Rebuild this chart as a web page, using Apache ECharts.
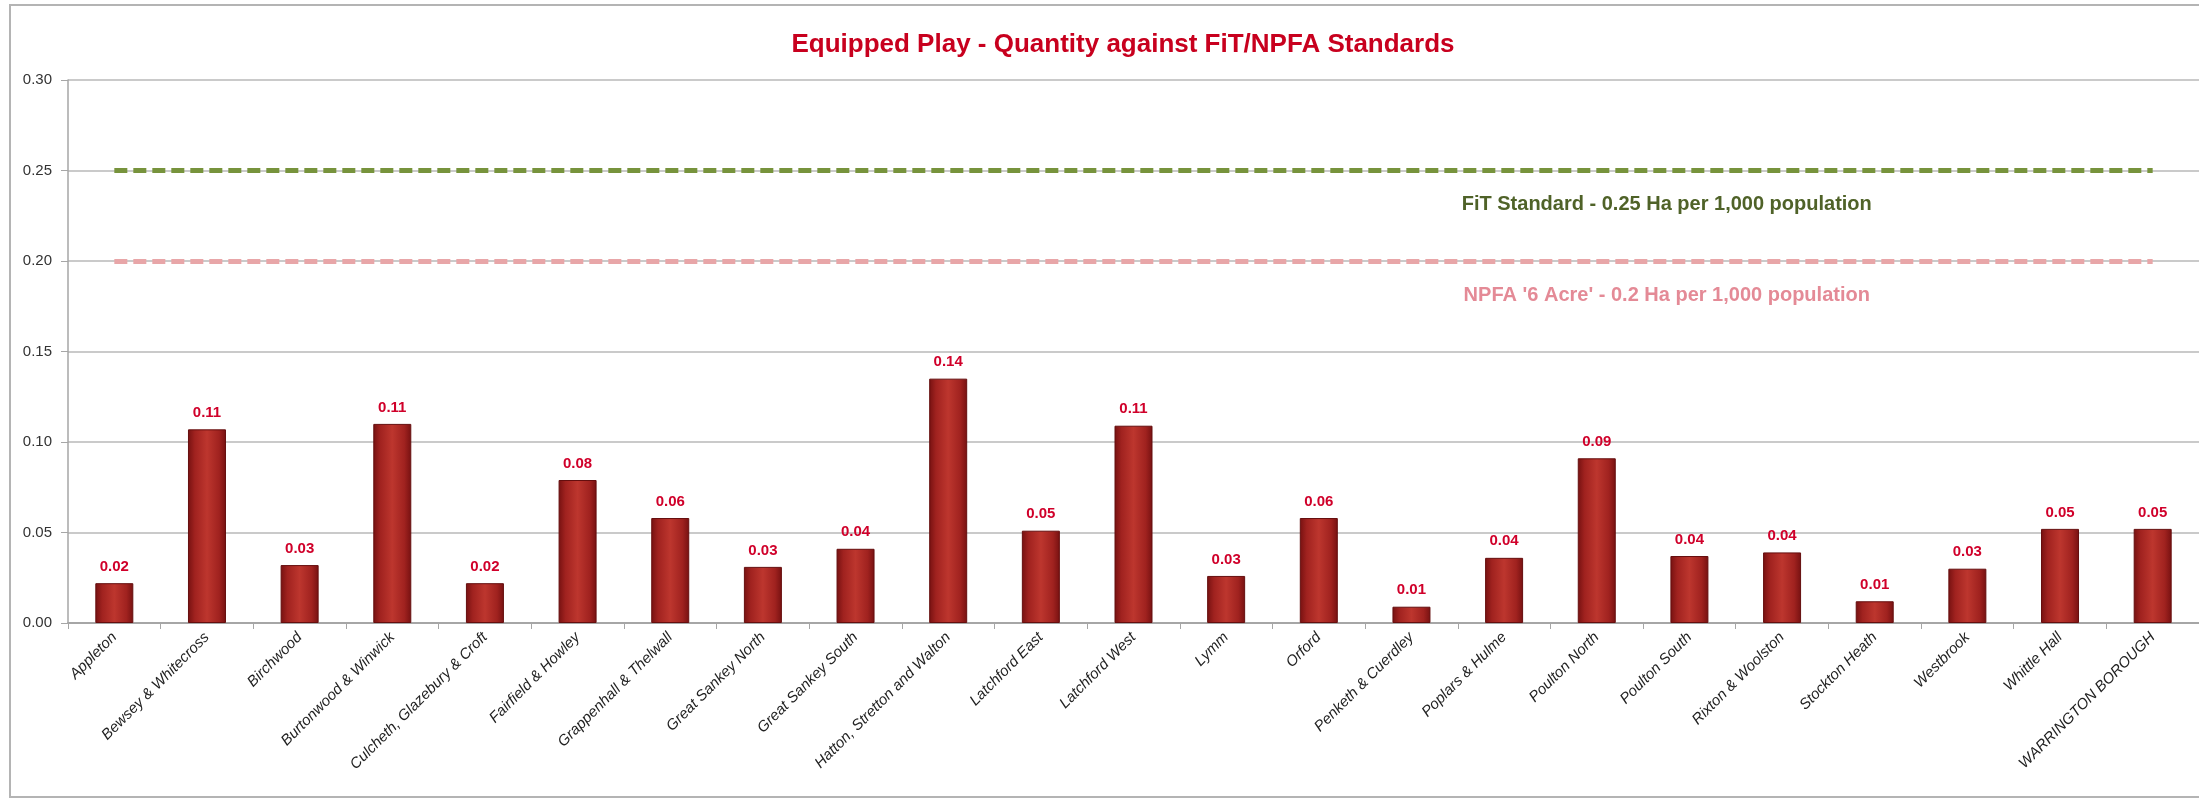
<!DOCTYPE html>
<html>
<head>
<meta charset="utf-8">
<script src="https://cdn.jsdelivr.net/npm/echarts@6/dist/echarts.min.js"></script>
<style>
  html, body { margin: 0; padding: 0; background: #fff; }
  #chart { width: 2199px; height: 800px; }
</style>
</head>
<body>
<div id="chart"></div>
<script>
// wards (x axis)
const wards = [
  'Appleton', 'Bewsey & Whitecross', 'Birchwood', 'Burtonwood & Winwick',
  'Culcheth, Glazebury & Croft', 'Fairfield & Howley', 'Grappenhall & Thelwall',
  'Great Sankey North', 'Great Sankey South', 'Hatton, Stretton and Walton',
  'Latchford East', 'Latchford West', 'Lymm', 'Orford', 'Penketh & Cuerdley',
  'Poplars & Hulme', 'Poulton North', 'Poulton South', 'Rixton & Woolston',
  'Stockton Heath', 'Westbrook', 'Whittle Hall', 'WARRINGTON BOROUGH'
]
// Ha per 1,000 population
const quantity = [
  0.022, 0.107, 0.032, 0.110, 0.022, 0.079, 0.058, 0.031, 0.041, 0.135,
  0.051, 0.109, 0.026, 0.058, 0.009, 0.036, 0.091, 0.037, 0.039, 0.012,
  0.030, 0.052, 0.052
]
const yTicks = [0, 0.05, 0.10, 0.15, 0.20, 0.25, 0.30]

const fitStandard = 0.25
const npfaStandard = 0.2
const fitText = 'FiT Standard - 0.25 Ha per 1,000 population'
const npfaText = "NPFA '6 Acre' - 0.2 Ha per 1,000 population"

const font = 'Liberation Sans, Arial, sans-serif'
const last = wards.length - 1

const chart = echarts.init(document.getElementById('chart'))

// horizontal shading so the bars look a bit rounded like the original
const barFill = new echarts.graphic.LinearGradient(0, 0, 1, 0, [
  { offset: 0, color: '#761111' },
  { offset: 0.18, color: '#a0221f' },
  { offset: 0.5, color: '#bd362e' },
  { offset: 0.82, color: '#a0221f' },
  { offset: 1, color: '#761111' }
])

// dashed standard line from first to last ward
function standardLine(value, color) {
  return [
    { coord: [0, value], lineStyle: { color: color, width: 5, type: [13, 6] } },
    { coord: [last, value] }
  ]
}

// caption under a standard line
function standardText(value, text, color) {
  return {
    coord: [16, value],
    symbol: 'circle',
    symbolSize: 0,
    label: {
      show: true,
      position: 'inside',
      offset: [70, 34],
      formatter: text,
      color: color,
      fontFamily: font,
      fontWeight: 'bold',
      fontSize: 20
    }
  }
}

chart.setOption({
  animation: false,
  backgroundColor: '#ffffff',
  title: {
    text: 'Equipped Play - Quantity against FiT/NPFA Standards',
    left: 1118,
    top: 27,
    textAlign: 'center',
    textStyle: {
      color: '#c8001e',
      fontFamily: font,
      fontWeight: 'bold',
      fontSize: 26
    }
  },
  graphic: [{
    type: 'rect',
    silent: true,
    shape: { x: 10, y: 5, width: 2300, height: 792 },
    style: { fill: 'none', stroke: '#b4b4b4', lineWidth: 2 }
  }],
  grid: { left: 68, right: -12, top: 80, bottom: 177 },
  xAxis: {
    type: 'category',
    data: wards,
    axisLine: { lineStyle: { color: '#a6a6a6', width: 2 } },
    axisTick: { show: true, length: 6, lineStyle: { color: '#a6a6a6' } },
    axisLabel: {
      rotate: 45,
      interval: 0,
      margin: 12,
      color: '#222',
      fontFamily: font,
      fontStyle: 'italic',
      fontSize: 15
    }
  },
  yAxis: {
    type: 'value',
    min: yTicks[0],
    max: yTicks[yTicks.length - 1],
    interval: 0.05,
    axisLine: { show: true, lineStyle: { color: '#a6a6a6', width: 1.5 } },
    axisTick: { show: true, length: 7, lineStyle: { color: '#a6a6a6' } },
    splitLine: { lineStyle: { color: '#b8b8b8', width: 1.5 } },
    axisLabel: {
      margin: 16,
      color: '#333',
      fontFamily: font,
      fontSize: 15,
      formatter: v => v.toFixed(2)
    }
  },
  series: [
    {
      name: 'Equipped Play',
      type: 'bar',
      data: quantity,
      barWidth: 38,
      itemStyle: { color: barFill, borderColor: '#650e0e', borderWidth: 1 },
      label: {
        show: true,
        position: 'top',
        distance: 9,
        color: '#d0002a',
        fontFamily: font,
        fontWeight: 'bold',
        fontSize: 15,
        formatter: p => p.value.toFixed(2)
      },
      markLine: {
        silent: true,
        symbol: 'none',
        label: { show: false },
        data: [
          standardLine(fitStandard, '#77933c'),
          standardLine(npfaStandard, '#e8a6a8')
        ]
      },
      markPoint: {
        silent: true,
        data: [
          standardText(fitStandard, fitText, '#4f6228'),
          standardText(npfaStandard, npfaText, '#e48a96')
        ]
      }
    }
  ]
})
</script>
</body>
</html>
